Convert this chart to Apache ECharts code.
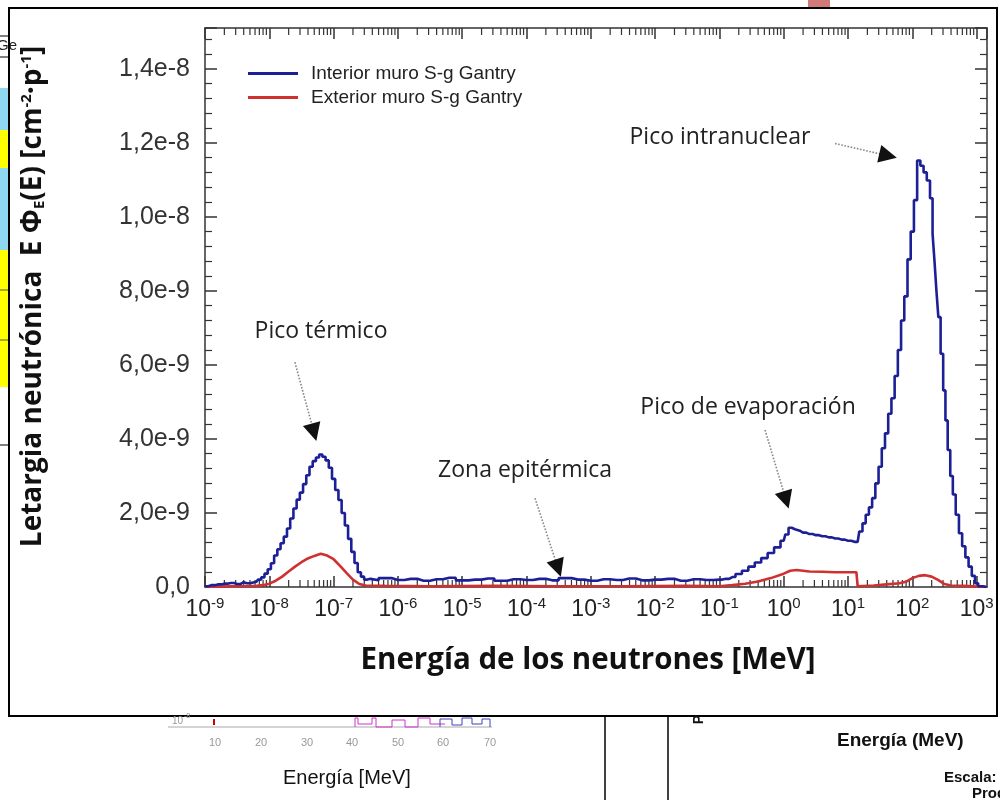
<!DOCTYPE html>
<html>
<head>
<meta charset="utf-8">
<script src="https://cdn.jsdelivr.net/npm/echarts@6/dist/echarts.min.js"></script>
<style>
  html, body { margin: 0; padding: 0; background: #fff; }
  #chart { width: 1000px; height: 800px; }
</style>
</head>
<body>
<div id="chart"></div>
<script>
// energies stored as log10(E / MeV), values in units of 1e-9 cm^-2 p^-1
const interiorLogE = [
  -9.00, -8.90, -8.80, -8.70, -8.60, -8.50, -8.40, -8.35,
  -8.30, -8.25, -8.20, -8.15, -8.10, -8.05, -8.00, -7.95, -7.90, -7.85,
  -7.80, -7.75, -7.70, -7.65, -7.60, -7.55, -7.50, -7.45, -7.40, -7.35,
  -7.30, -7.25, -7.20, -7.15, -7.10, -7.05, -7.00, -6.95, -6.90, -6.85,
  -6.80, -6.75, -6.70, -6.65, -6.60, -6.55, -6.50, -6.45,
  -6.4, -6.2, -6.0, -5.8, -5.6, -5.4, -5.2, -5.0, -4.8, -4.6, -4.4, -4.2,
  -4.0, -3.8, -3.6, -3.4, -3.2, -3.0, -2.8, -2.6, -2.4, -2.2, -2.0, -1.8,
  -1.6, -1.4, -1.2, -1.0,
  -0.9, -0.8, -0.7, -0.6, -0.5, -0.4, -0.3, -0.2, -0.1, 0.0, 0.05, 0.10,
  0.15, 0.2, 0.3, 0.4, 0.5, 0.6, 0.7, 0.8, 0.9, 1.0, 1.1,
  1.15, 1.20, 1.25, 1.30, 1.35, 1.40, 1.45, 1.50, 1.55, 1.60, 1.65, 1.70,
  1.75, 1.80, 1.85, 1.90, 1.95, 2.00, 2.05, 2.10, 2.15, 2.20, 2.25, 2.30,
  2.33, 2.36, 2.39, 2.42, 2.46, 2.50, 2.53, 2.57, 2.61, 2.65, 2.70, 2.75,
  2.80, 2.85, 2.90, 2.95, 3.00, 3.05, 3.15
];
const interiorFlux = [
  0.02, 0.05, 0.07, 0.09, 0.11, 0.08, 0.13, 0.10,
  0.10, 0.12, 0.14, 0.20, 0.26, 0.36, 0.48, 0.64, 0.85, 1.02,
  1.18, 1.36, 1.58, 1.85, 2.12, 2.36, 2.55, 2.78, 3.02, 3.25,
  3.40, 3.50, 3.58, 3.52, 3.42, 3.22, 2.92, 2.62, 2.35, 2.00,
  1.66, 1.30, 0.95, 0.65, 0.40, 0.28, 0.20, 0.22,
  0.18, 0.24, 0.19, 0.22, 0.17, 0.21, 0.25, 0.18, 0.20, 0.23, 0.17, 0.21,
  0.19, 0.22, 0.18, 0.24, 0.20, 0.17, 0.21, 0.19, 0.23, 0.18, 0.20, 0.22,
  0.17, 0.21, 0.19, 0.20,
  0.22, 0.27, 0.35, 0.44, 0.55, 0.66, 0.78, 0.92, 1.07, 1.25, 1.42, 1.60,
  1.56, 1.52, 1.47, 1.43, 1.40, 1.37, 1.34, 1.31, 1.28, 1.25, 1.22,
  1.22, 1.50, 1.72, 1.95, 2.15, 2.40, 2.80, 3.25, 3.75, 4.15, 4.68, 5.10,
  5.70, 6.40, 7.20, 7.85, 8.85, 9.60, 10.45, 11.52, 11.38, 11.20, 10.98, 10.50,
  9.54, 8.80, 8.00, 7.29, 6.30, 5.31, 4.50, 3.70, 3.00, 2.50, 1.95, 1.45,
  1.10, 0.80, 0.55, 0.30, 0.10, 0.02, 0.00
];
const exteriorLogE = [
  -9.0, -8.8, -8.6, -8.4, -8.2, -8.1, -8.0, -7.9, -7.8, -7.7, -7.6, -7.5,
  -7.4, -7.3, -7.2, -7.1, -7.0, -6.9, -6.8, -6.7, -6.6, -6.5, -6.2, -5.5,
  -4.5, -3.5, -2.5, -1.5, -1.0, -0.8, -0.6, -0.4, -0.2, 0.0, 0.1, 0.2,
  0.4, 0.6, 0.8, 1.0, 1.13, 1.15, 1.4, 1.6, 1.8, 1.9, 2.0, 2.1,
  2.2, 2.3, 2.4, 2.5, 2.6, 2.8, 3.0, 3.15
];
const exteriorFlux = [
  0.00, 0.01, 0.02, 0.02, 0.03, 0.05, 0.09, 0.17, 0.28, 0.42, 0.55, 0.67,
  0.77, 0.84, 0.90, 0.85, 0.75, 0.57, 0.38, 0.20, 0.08, 0.04, 0.03, 0.02,
  0.03, 0.02, 0.02, 0.03, 0.02, 0.05, 0.09, 0.15, 0.24, 0.36, 0.44, 0.46,
  0.42, 0.41, 0.40, 0.40, 0.40, 0.02, 0.04, 0.07, 0.10, 0.14, 0.24, 0.30,
  0.32, 0.28, 0.19, 0.08, 0.04, 0.03, 0.01, 0.00
];
const seriesNames = ['Interior muro S-g Gantry', 'Exterior muro S-g Gantry'];

// annotations: [E, flux] for text centres and arrow start / head
const noteTexts = ['Pico térmico', 'Zona epitérmica', 'Pico de evaporación', 'Pico intranuclear'];
const notePos = [[6.37e-8, 6.91], [9.5e-5, 3.16], [0.279, 4.86], [0.102, 12.14]];
const arrowFrom = [[2.5e-8, 6.07], [1.355e-4, 2.40], [0.512, 4.24], [6.28, 11.98]];
const arrowTo = [[4.95e-8, 4.18], [3.09e-4, 0.51], [1.087, 2.35], [41.9, 11.65]];

const xMin = 1e-9;
const xMax = 1.45e3;
const yMax = 15.1;

const toPairs = (logE, flux) => logE.map((e, i) => [Math.pow(10, e), flux[i]]);

// minor tick positions of the log axis: 2..9 x 10^n
const minorTickE = [];
for (let n = -9; n < 3; n++) {
  for (let k = 2; k <= 9; k++) minorTickE.push([k * Math.pow(10, n), 0]);
}

const supDigits = v => String(Math.round(Math.log10(v)));
const yLabel = v => v === 0 ? '0,0' : (v * 1e-9).toExponential(1).replace('.', ',');

// point along an arrow, measured in log-x / linear-y space
function alongArrow(a, b, t) {
  const la = Math.log10(a[0]);
  const lb = Math.log10(b[0]);
  return [Math.pow(10, la + t * (lb - la)), a[1] + t * (b[1] - a[1])];
}

const axisColor = '#333';
const tickFont = 'Liberation Sans, Arial, sans-serif';
const titleFont = '"Open Sans", sans-serif';

const chart = echarts.init(document.getElementById('chart'), null, { renderer: 'canvas' });

const logAxisBase = {
  type: 'log',
  logBase: 10,
  min: xMin,
  max: xMax,
  interval: 1,
  gridIndex: 0,
  splitLine: { show: false },
  axisLine: { show: true, onZero: false, lineStyle: { color: axisColor, width: 1.5 } },
  axisTick: { show: true, inside: true, length: 11, lineStyle: { color: axisColor, width: 1.5 } },
  minorTick: { show: false }
};

const valueAxisBase = {
  type: 'value',
  min: 0,
  max: yMax,
  interval: 2,
  splitLine: { show: false },
  axisLine: { show: true, lineStyle: { color: axisColor, width: 1.5 } },
  axisTick: { show: true, inside: true, length: 12, lineStyle: { color: axisColor, width: 1.5 } },
  minorTick: { show: true, splitNumber: 5, length: 7, lineStyle: { color: axisColor, width: 1.2 } }
};

const arrowLines = [];
arrowFrom.forEach((p, i) => {
  arrowLines.push([
    { coord: p, symbol: 'none', lineStyle: { color: '#888', type: 'dotted', width: 1.6 } },
    { coord: arrowTo[i], symbol: 'none' }
  ]);
  arrowLines.push([
    { coord: alongArrow(p, arrowTo[i], 0.93), symbol: 'none', lineStyle: { color: '#111', type: 'solid', width: 1 } },
    { coord: arrowTo[i], symbol: 'triangle', symbolSize: 18 }
  ]);
});

const option = {
  animation: false,
  backgroundColor: '#fff',
  grid: { left: 205, right: 13, top: 28, bottom: 213, containLabel: false },
  legend: {
    data: seriesNames,
    orient: 'vertical',
    left: 243,
    top: 59,
    icon: 'rect',
    itemWidth: 50,
    itemHeight: 3,
    itemGap: 5,
    textStyle: { fontFamily: tickFont, fontSize: 19, color: '#222', padding: [0, 0, 0, 8] }
  },
  xAxis: [
    Object.assign({}, logAxisBase, {
      position: 'bottom',
      name: 'Energía de los neutrones [MeV]',
      nameLocation: 'middle',
      nameGap: 59,
      nameTextStyle: { fontFamily: titleFont, fontWeight: 'bold', fontSize: 29.5, color: '#111', padding: [0, 16, 0, 0] },
      axisLabel: {
        margin: 9,
        showMaxLabel: false,
        formatter: v => '{b|10}{s|' + supDigits(v) + '}',
        rich: {
          b: { fontFamily: tickFont, fontSize: 23, color: '#222', lineHeight: 28 },
          s: { fontFamily: tickFont, fontSize: 15, color: '#222', verticalAlign: 'top', lineHeight: 16 }
        }
      }
    }),
    Object.assign({}, logAxisBase, {
      position: 'top',
      axisLabel: { show: false }
    })
  ],
  yAxis: [
    Object.assign({}, valueAxisBase, {
      position: 'left',
      name: 'Letargia neutrónica  E Φ{sub|E}(E) [cm{sup|-2}·p{sup|-1}]',
      nameLocation: 'middle',
      nameRotate: 90,
      nameGap: 158,
      nameTextStyle: {
        fontFamily: titleFont, fontWeight: 'bold', fontSize: 28, color: '#111',
        padding: [0, 0, 0, 22],
        rich: {
          sub: { fontFamily: titleFont, fontWeight: 'bold', fontSize: 15, color: '#111', verticalAlign: 'bottom' },
          sup: { fontFamily: titleFont, fontWeight: 'bold', fontSize: 15, color: '#111', verticalAlign: 'top' }
        }
      },
      axisLabel: {
        margin: 15,
        showMaxLabel: false,
        fontFamily: tickFont,
        fontSize: 25,
        color: '#333',
        formatter: yLabel
      }
    }),
    Object.assign({}, valueAxisBase, {
      position: 'right',
      axisLabel: { show: false }
    })
  ],
  series: [
    {
      name: seriesNames[0],
      type: 'line',
      step: 'middle',
      xAxisIndex: 0,
      yAxisIndex: 0,
      data: toPairs(interiorLogE, interiorFlux),
      showSymbol: false,
      symbol: 'none',
      z: 4,
      color: '#1c1f96',
      lineStyle: { color: '#1c1f96', width: 2.6 },
      markLine: {
        silent: true,
        symbol: ['none', 'none'],
        label: { show: false },
        lineStyle: { color: '#888', type: 'dotted', width: 1.6 },
        data: arrowLines
      },
      markPoint: {
        silent: true,
        symbol: 'circle',
        symbolSize: 1,
        itemStyle: { color: 'rgba(0,0,0,0)' },
        label: {
          show: true,
          position: 'inside',
          fontFamily: titleFont,
          fontSize: 23,
          color: '#222'
        },
        data: notePos.map((p, i) => ({ coord: p, value: noteTexts[i], label: { formatter: noteTexts[i] } }))
      }
    },
    {
      name: seriesNames[1],
      type: 'line',
      xAxisIndex: 0,
      yAxisIndex: 0,
      data: toPairs(exteriorLogE, exteriorFlux),
      showSymbol: false,
      symbol: 'none',
      z: 3,
      color: '#cf3030',
      lineStyle: { color: '#cf3030', width: 2.6 }
    },
    {
      // logarithmic minor ticks on the bottom and top axes
      name: 'minorTicks',
      type: 'custom',
      xAxisIndex: 0,
      yAxisIndex: 0,
      silent: true,
      z: 1,
      data: minorTickE,
      renderItem: (params, api) => {
        const cs = params.coordSys;
        const x = api.coord([api.value(0), 0])[0];
        const bottom = cs.y + cs.height;
        const style = { stroke: axisColor, lineWidth: 1.2 };
        return {
          type: 'group',
          children: [
            { type: 'line', shape: { x1: x, y1: bottom, x2: x, y2: bottom - 7 }, style },
            { type: 'line', shape: { x1: x, y1: cs.y, x2: x, y2: cs.y + 7 }, style }
          ]
        };
      }
    }
  ],
  graphic: [
    // surrounding screenshot pieces
    { type: 'rect', shape: { x: 0, y: 88, width: 9, height: 42 }, style: { fill: '#8fd8f2' }, silent: true },
    { type: 'rect', shape: { x: 0, y: 130, width: 9, height: 38 }, style: { fill: '#ffff00' }, silent: true },
    { type: 'rect', shape: { x: 0, y: 168, width: 9, height: 82 }, style: { fill: '#8fd8f2' }, silent: true },
    { type: 'rect', shape: { x: 0, y: 250, width: 9, height: 137 }, style: { fill: '#ffff00' }, silent: true },
    { type: 'polyline', shape: { points: [[0, 36], [9, 36]] }, style: { stroke: '#000', lineWidth: 1 }, silent: true },
    { type: 'polyline', shape: { points: [[0, 57], [9, 57]] }, style: { stroke: '#000', lineWidth: 1 }, silent: true },
    { type: 'polyline', shape: { points: [[0, 290], [9, 290]] }, style: { stroke: '#555', lineWidth: 1 }, silent: true },
    { type: 'polyline', shape: { points: [[0, 340], [9, 340]] }, style: { stroke: '#555', lineWidth: 1 }, silent: true },
    { type: 'polyline', shape: { points: [[0, 445], [9, 445]] }, style: { stroke: '#000', lineWidth: 1 }, silent: true },
    { type: 'text', left: -3, top: 38, style: { text: 'Ge', fontFamily: tickFont, fontSize: 15, fill: '#222' }, silent: true },
    { type: 'rect', shape: { x: 808, y: 0, width: 22, height: 8 }, style: { fill: '#d27a7a' }, silent: true },
    { type: 'rect', shape: { x: 9, y: 8, width: 988, height: 708 }, style: { fill: 'none', stroke: '#000', lineWidth: 2 }, silent: true },
    { type: 'polyline', shape: { points: [[605, 717], [605, 800]] }, style: { stroke: '#000', lineWidth: 1.5 }, silent: true },
    { type: 'polyline', shape: { points: [[668, 717], [668, 800]] }, style: { stroke: '#000', lineWidth: 1.5 }, silent: true },
    { type: 'polyline', shape: { points: [[168, 727], [492, 727]] }, style: { stroke: '#aaa', lineWidth: 1 }, silent: true },
    { type: 'polyline', shape: { points: [[214, 719], [214, 725]] }, style: { stroke: '#c00', lineWidth: 2 }, silent: true },
    { type: 'polyline', shape: { points: [[355, 727], [355, 718], [358, 718], [358, 724], [372, 724], [372, 718], [376, 718], [376, 727], [392, 727], [392, 720], [405, 720], [405, 727], [418, 727], [418, 718], [430, 718], [430, 724], [445, 724]] }, style: { stroke: '#d030d0', fill: 'none', lineWidth: 1 }, silent: true },
    { type: 'polyline', shape: { points: [[440, 727], [440, 719], [452, 719], [452, 725], [462, 725], [462, 718], [472, 718], [472, 724], [482, 724], [482, 719], [490, 719], [490, 727]] }, style: { stroke: '#4040c0', fill: 'none', lineWidth: 1 }, silent: true },
    { type: 'text', left: 172, top: 716, style: { text: '10', fontFamily: tickFont, fontSize: 10, fill: '#999' }, silent: true },
    { type: 'text', left: 184, top: 713, style: { text: '-8', fontFamily: tickFont, fontSize: 7, fill: '#999' }, silent: true },
    { type: 'text', left: 209, top: 737, style: { text: '10', fontFamily: tickFont, fontSize: 11, fill: '#999' }, silent: true },
    { type: 'text', left: 255, top: 737, style: { text: '20', fontFamily: tickFont, fontSize: 11, fill: '#999' }, silent: true },
    { type: 'text', left: 301, top: 737, style: { text: '30', fontFamily: tickFont, fontSize: 11, fill: '#999' }, silent: true },
    { type: 'text', left: 346, top: 737, style: { text: '40', fontFamily: tickFont, fontSize: 11, fill: '#999' }, silent: true },
    { type: 'text', left: 392, top: 737, style: { text: '50', fontFamily: tickFont, fontSize: 11, fill: '#999' }, silent: true },
    { type: 'text', left: 437, top: 737, style: { text: '60', fontFamily: tickFont, fontSize: 11, fill: '#999' }, silent: true },
    { type: 'text', left: 484, top: 737, style: { text: '70', fontFamily: tickFont, fontSize: 11, fill: '#999' }, silent: true },
    { type: 'text', left: 283, top: 768, style: { text: 'Energía [MeV]', fontFamily: tickFont, fontSize: 20, fill: '#111' }, silent: true },
    { type: 'text', left: 692, top: 715, rotation: Math.PI / 2, style: { text: 'P', fontFamily: tickFont, fontWeight: 'bold', fontSize: 14, fill: '#111' }, silent: true },
    { type: 'text', left: 837, top: 731, style: { text: 'Energía (MeV)', fontFamily: tickFont, fontWeight: 'bold', fontSize: 19, fill: '#111' }, silent: true },
    { type: 'text', left: 944, top: 770, style: { text: 'Escala: 1', fontFamily: tickFont, fontWeight: 'bold', fontSize: 15, fill: '#111' }, silent: true },
    { type: 'text', left: 972, top: 786, style: { text: 'Prod', fontFamily: tickFont, fontWeight: 'bold', fontSize: 15, fill: '#111' }, silent: true }
  ]
};

chart.setOption(option);
window.addEventListener('resize', () => chart.resize());
</script>
</body>
</html>
